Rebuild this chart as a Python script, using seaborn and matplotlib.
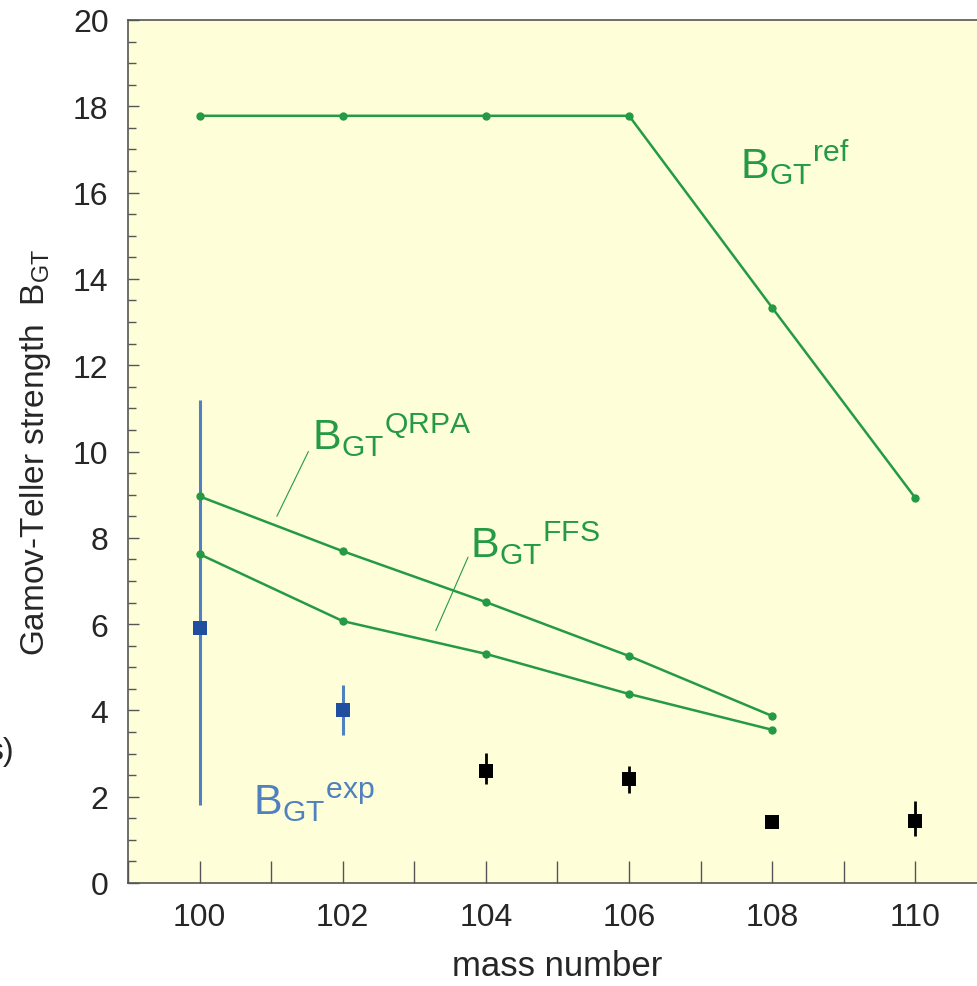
import numpy as np
import pandas as pd
import matplotlib
matplotlib.use("Agg")
import matplotlib.pyplot as plt
import seaborn as sns

# ---- data ----
mass_ref = [100, 102, 104, 106, 108, 110]
bgt_ref = [17.78, 17.78, 17.78, 17.78, 13.33, 8.92]

mass_qrpa = [100, 102, 104, 106, 108]
bgt_qrpa = [8.96, 7.69, 6.51, 5.26, 3.87]

mass_ffs = [100, 102, 104, 106, 108]
bgt_ffs = [7.62, 6.07, 5.31, 4.38, 3.55]

mass_exp_blue = [100, 102]
bgt_exp_blue = [5.92, 4.01]
err_lo_blue = [4.12, 0.59]
err_hi_blue = [5.28, 0.59]

mass_exp_black = [104, 106, 108, 110]
bgt_exp_black = [2.60, 2.41, 1.41, 1.43]
err_lo_black = [0.31, 0.32, 0.0, 0.33]
err_hi_black = [0.41, 0.31, 0.0, 0.48]

x_ticks = [100, 102, 104, 106, 108, 110]
y_ticks = [0, 2, 4, 6, 8, 10, 12, 14, 16, 18, 20]

# ---- style ----
sns.set_theme(style="ticks")
plt.rcParams["font.family"] = ["Liberation Sans", "DejaVu Sans"]
plt.rcParams["mathtext.default"] = "regular"

GREEN = "#259a45"
BLUE_M = "#1f4f9e"
BLUE_L = "#4f80bf"
BG = "#fefed8"
AX = "#555555"

fig = plt.figure(figsize=(9.78, 9.87), dpi=100)
ax = fig.add_axes([128 / 978, 103 / 987, 859 / 978, 863 / 987])
ax.set_facecolor(BG)

df_ref = pd.DataFrame({"m": mass_ref, "b": bgt_ref})
df_q = pd.DataFrame({"m": mass_qrpa, "b": bgt_qrpa})
df_f = pd.DataFrame({"m": mass_ffs, "b": bgt_ffs})
for d in (df_ref, df_q, df_f):
    sns.lineplot(data=d, x="m", y="b", ax=ax, color=GREEN, lw=1.8,
                 marker="o", markersize=6, markeredgewidth=0, zorder=3)

# experimental points
ax.errorbar(mass_exp_blue, bgt_exp_blue, yerr=[err_lo_blue, err_hi_blue],
            fmt="none", ecolor=BLUE_L, elinewidth=2.2, capsize=0, zorder=2)
sns.scatterplot(x=mass_exp_blue, y=bgt_exp_blue, ax=ax, marker="s", s=110,
                color=BLUE_M, edgecolor=BLUE_M, linewidth=0, zorder=4)
ax.errorbar(mass_exp_black, bgt_exp_black, yerr=[err_lo_black, err_hi_black],
            fmt="none", ecolor="black", elinewidth=2.0, capsize=0, zorder=2)
sns.scatterplot(x=mass_exp_black, y=bgt_exp_black, ax=ax, marker="s", s=110,
                color="black", edgecolor="black", linewidth=0, zorder=4)

# annotations
def label(x, y, sup, color):
    ax.text(x, y, r"$B_{GT}{}^{%s}$" % sup, color=color, fontsize=31)

label(107.55, 16.35, "ref", GREEN)
label(101.57, 10.05, "QRPA", GREEN)
label(103.78, 7.55, "FFS", GREEN)
label(100.74, 1.6, "exp", BLUE_L)
ax.plot([101.08, 101.52], [8.5, 10.0], color=GREEN, lw=0.8)
ax.plot([103.3, 103.75], [5.85, 7.55], color=GREEN, lw=0.8)

# axes
ax.set_xlim(99, 111)
ax.set_ylim(0, 20)
ax.set_xticks(x_ticks)
ax.set_xticks(np.arange(99, 112, 1), minor=True)
ax.set_yticks(y_ticks)
ax.set_yticks(np.arange(0, 20.5, 0.5), minor=True)
ax.tick_params(which="both", direction="in", color=AX, width=1.0,
               top=False, right=False)
ax.tick_params(which="major", axis="x", length=16, labelsize=23, pad=14)
ax.tick_params(which="minor", axis="x", length=16)
ax.tick_params(which="major", axis="y", length=8, labelsize=23, pad=14)
ax.tick_params(which="minor", axis="y", length=6)
for s in ax.spines.values():
    s.set_color(AX)
    s.set_linewidth(1.2)
ax.spines["right"].set_visible(False)

ax.set_xlabel("mass number", fontsize=25, labelpad=12)
ax.set_ylabel(r"Gamov-Teller strength  $B_{GT}$", fontsize=24, labelpad=14)

fig.text(14 / 978, 1 - 752 / 987, "s)", ha="right", va="center", fontsize=23)

fig.savefig("out.png", dpi=100)
